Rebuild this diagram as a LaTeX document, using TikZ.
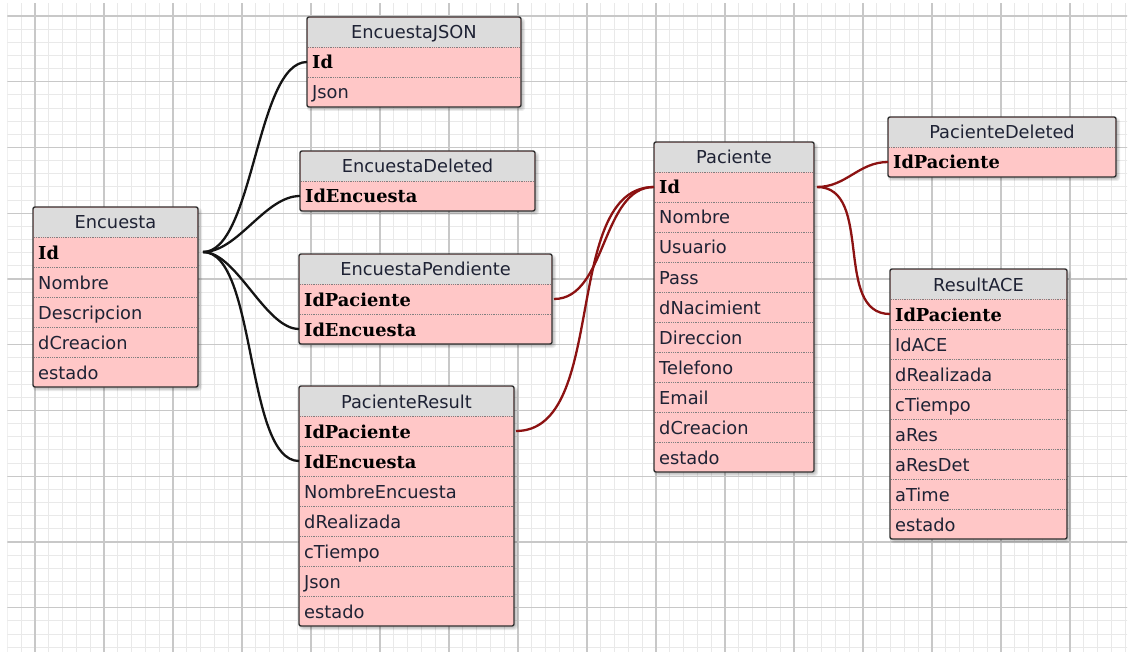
\documentclass[tikz,border=0pt]{standalone}
\usepackage{fontspec}
\setmainfont{DejaVu Sans}
\newfontfamily\keyfont{DejaVu Serif}
\usepackage{tikz}
\usepackage{xcolor}
\usetikzlibrary{calc}

\definecolor{rowpink}{RGB}{255,199,199}
\definecolor{headgray}{RGB}{220,220,220}
\definecolor{edgegray}{RGB}{48,48,48}
\definecolor{textnavy}{RGB}{30,34,52}
\definecolor{fkred}{RGB}{140,18,18}
\definecolor{gridminor}{RGB}{233,233,233}
\definecolor{gridmajor}{RGB}{200,200,200}

\tikzset{
    tablebox/.style={fill=rowpink, rounded corners=2pt, inner sep=0pt, outer sep=0pt},
    tableedge/.style={draw=edgegray, line width=1.4pt, rounded corners=2pt},
    fieldrow/.style={minimum height=30pt, inner sep=0pt, outer sep=0pt},
    rowsep/.style={gray, line width=.7pt, dash pattern=on .9pt off .9pt},
    headtext/.style={anchor=base, inner sep=0pt, text=textnavy, font=\fontsize{17.8}{20}\selectfont},
    fieldtext/.style={anchor=base west, inner sep=0pt, text=textnavy, font=\fontsize{17.8}{20}\selectfont},
    keyline/.style={line width=2.3pt, black!92},
    fkline/.style={line width=2.3pt, fkred}
}

\newcommand{\pk}[1]{{\keyfont\bfseries\color{black}#1}}

% name, x, y, width, rows, title, fields
\newcommand{\dbtable}[7]{%
    \foreach \s in {1,2,3}
        \fill[black, opacity=.08, rounded corners=3pt] ({#2+3-\s}, {#3+4-\s}) rectangle ({#2+#4+1+\s}, {#3+30*(#5+1)+1+\s});
    \node[tablebox, minimum width=#4pt, minimum height={30pt*(#5+1)}, anchor=north west] (#1) at (#2, #3) {};
    \fill[headgray] ([shift={(.7pt,-.7pt)}]#1.north west) rectangle ([xshift=-.7pt, yshift=-30pt]#1.north east);
    \node[headtext] (#1-title) at ([yshift=-22pt]#1.north) {#6};
    \foreach \f [count=\i] in {#7} {
        \node[fieldrow, minimum width=#4pt, anchor=north west] (#1-\i) at ([yshift={-30pt*\i}]#1.north west) {};
        \draw[rowsep] ([xshift=1pt]#1-\i.north west) -- ([xshift=-1pt]#1-\i.north east);
        \node[fieldtext] (#1-t\i) at ([shift={(5pt,-22pt)}]#1-\i.north west) {\f};
    }
    \draw[tableedge] (#1.north west) rectangle (#1.south east);
}

\begin{document}
\begin{tikzpicture}[x=1pt, y=-1pt]
    \fill[white] (0, 0) rectangle (1134, 652);
    \useasboundingbox (0, 0) rectangle (1134, 652);
    % grid
    \begin{scope}
        \clip (7.4, 4) rectangle (1127, 652);
        \foreach \gx in {0,...,81} \draw[gridminor, line width=1pt] ({7.4+13.8*\gx}, 0) -- ++(0, 660);
        \foreach \gy in {0,...,49} \draw[gridminor, line width=1pt] (0, {2.85+13.15*\gy}) -- ++(1140, 0);
        \foreach \gx in {0,...,15} \draw[gridmajor, line width=1.1pt] ({35+69*\gx}, 0) -- ++(0, 660);
        \foreach \gy in {0,...,9} \draw[gridmajor, line width=1.1pt] (0, {16+65.75*\gy}) -- ++(1140, 0);
    \end{scope}

    \dbtable{encuestajson}{307}{17}{214}{2}{EncuestaJSON}{\pk{Id}, Json}
    \dbtable{encuestadeleted}{300}{151}{235}{1}{EncuestaDeleted}{\pk{IdEncuesta}}
    \dbtable{encuesta}{33}{207}{165}{5}{Encuesta}{\pk{Id}, Nombre, Descripcion, dCreacion, estado}
    \dbtable{encuestapendiente}{299}{254}{253}{2}{EncuestaPendiente}{\pk{IdPaciente}, \pk{IdEncuesta}}
    \dbtable{pacienteresult}{299}{386}{215}{7}{PacienteResult}{\pk{IdPaciente}, \pk{IdEncuesta}, NombreEncuesta, dRealizada, cTiempo, Json, estado}
    \dbtable{paciente}{654}{142}{160}{10}{Paciente}{\pk{Id}, Nombre, Usuario, Pass, dNacimient, Direccion, Telefono, Email, dCreacion, estado}
    \dbtable{pacientedeleted}{888}{117}{228}{1}{PacienteDeleted}{\pk{IdPaciente}}
    \dbtable{resultace}{890}{269}{177}{8}{ResultACE}{\pk{IdPaciente}, IdACE, dRealizada, cTiempo, aRes, aResDet, aTime, estado}

    % relations
    \draw[keyline] ([xshift=5pt]encuesta-1.east) to[out=0, in=180, looseness=.6] (encuestajson-1.west);
    \draw[keyline] ([xshift=5pt]encuesta-1.east) to[out=0, in=180, looseness=.8] (encuestadeleted-1.west);
    \draw[keyline] ([xshift=5pt]encuesta-1.east) to[out=0, in=180, looseness=.7] (encuestapendiente-2.west);
    \draw[keyline] ([xshift=5pt]encuesta-1.east) to[out=0, in=180, looseness=.6] (pacienteresult-2.west);
    \draw[fkline] (paciente-1.west) to[out=180, in=0, looseness=.9] ([xshift=2pt]encuestapendiente-1.east);
    \draw[fkline] (paciente-1.west) to[out=180, in=0, looseness=.85] ([xshift=2pt]pacienteresult-1.east);
    \draw[fkline] ([xshift=3pt]paciente-1.east) to[out=0, in=180] (pacientedeleted-1.west);
    \draw[fkline] ([xshift=3pt]paciente-1.east) to[out=0, in=180] (resultace-1.west);
\end{tikzpicture}
\end{document}
